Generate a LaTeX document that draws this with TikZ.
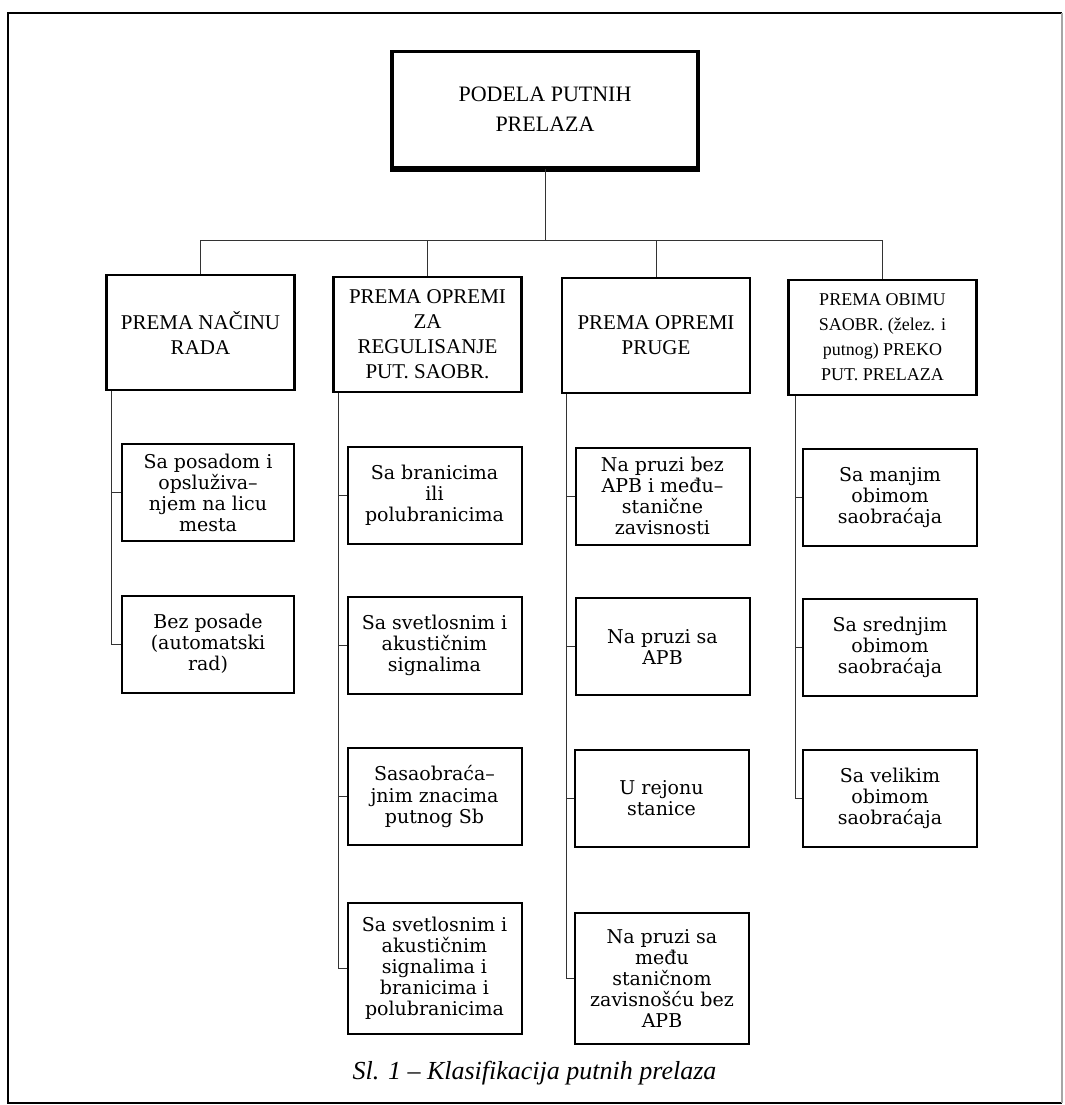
\documentclass[tikz,border=0pt]{standalone}
\usepackage{fontspec}
\setmainfont{Liberation Serif}
\newfontfamily\itemfont{DejaVu Serif}
\usepackage{tikz}

\begin{document}
\begin{tikzpicture}[x=0.5pt, y=-0.5pt,
  mainbox/.style={draw, line width=1.6pt, minimum width=153pt, minimum height=58pt, align=center, inner sep=2pt, font=\fontsize{11}{15}\selectfont},
  groupbox/.style={draw, line width=1.4pt, minimum width=94pt, minimum height=57.5pt, align=center, inner sep=2pt, font=\fontsize{10.5}{12.5}\selectfont},
  itembox/.style={draw, line width=1pt, minimum width=87pt, minimum height=48.5pt, align=center, inner sep=2pt, font=\itemfont\fontsize{9.5}{10.5}\selectfont},
  link/.style={line width=0.5pt, black!80}]
\useasboundingbox (0,0) rectangle (1065,1105);

% Frame
\draw[line width=1pt] (1062,13) -- (8,13) -- (8,1103) -- (1062,1103);
\draw[line width=0.6pt, black!35] (1062,13) -- (1062,1103);

% Top node
\node[mainbox] (podela) at (545,109.5) {PODELA PUTNIH\\PRELAZA};
\draw[line width=3pt] (podela.south west) -- (podela.south east);

% Groups
\node[groupbox] (nacin) at (200.5,332.5) {PREMA NAČINU\\RADA};
\node[groupbox] (reg) at (427.5,334.5) {PREMA OPREMI\\ZA\\REGULISANJE\\PUT. SAOBR.};
\node[groupbox] (pruga) at (656,335.5) {PREMA OPREMI\\PRUGE};
\node[groupbox, font=\fontsize{9}{12.5}\selectfont] (obim) at (882.5,337.5) {PREMA OBIMU\\SAOBR. (želez. i\\putnog) PREKO\\PUT. PRELAZA};

% Items under PREMA NACINU RADA
\node[itembox, minimum width=86pt] (nacin_1) at (208,492.5) {Sa posadom i\\opsluživa–\\njem na licu\\mesta};
\node[itembox, minimum width=86pt] (nacin_2) at (208,644) {Bez posade\\(automatski\\rad)};

% Items under PREMA OPREMI ZA REGULISANJE
\node[itembox] (reg_1) at (434.5,495) {Sa branicima\\ili\\polubranicima};
\node[itembox] (reg_2) at (434.5,645) {Sa svetlosnim i\\akustičnim\\signalima};
\node[itembox] (reg_3) at (434.5,796.5) {Sasaobraća–\\jnim znacima\\putnog Sb};
\node[itembox, minimum height=65.5pt] (reg_4) at (434.5,968.5) {Sa svetlosnim i\\akustičnim\\signalima i\\branicima i\\polubranicima};

% Items under PREMA OPREMI PRUGE
\node[itembox] (pruga_1) at (662.5,496) {Na pruzi bez\\APB i među–\\stanične\\zavisnosti};
\node[itembox] (pruga_2) at (662.5,646.5) {Na pruzi sa\\APB};
\node[itembox] (pruga_3) at (661.5,798.5) {U rejonu\\stanice};
\node[itembox, minimum height=65.5pt] (pruga_4) at (662,978.5) {Na pruzi sa\\među\\staničnom\\zavisnošću bez\\APB};

% Items under PREMA OBIMU
\node[itembox] (obim_1) at (890,497.5) {Sa manjim\\obimom\\saobraćaja};
\node[itembox] (obim_2) at (890,647.5) {Sa srednjim\\obimom\\saobraćaja};
\node[itembox] (obim_3) at (890,798) {Sa velikim\\obimom\\saobraćaja};

% Bus from top node
\coordinate (bus) at (545,240);
\draw[link] (podela) -- (bus);
\draw[link] (bus) -| (nacin.north);
\draw[link] (bus) -| (reg.north);
\draw[link] (bus) -| (pruga.north);
\draw[link] (bus) -| (obim.north);

% Column lines
\draw[link] ([xshift=3pt]nacin.south west) |- (nacin_1.west);
\draw[link] ([xshift=3pt]nacin.south west) |- (nacin_2.west);

\draw[link] ([xshift=3pt]reg.south west) |- (reg_1.west);
\draw[link] ([xshift=3pt]reg.south west) |- (reg_2.west);
\draw[link] ([xshift=3pt]reg.south west) |- (reg_3.west);
\draw[link] ([xshift=3pt]reg.south west) |- (reg_4.west);

\draw[link] ([xshift=3pt]pruga.south west) |- (pruga_1.west);
\draw[link] ([xshift=3pt]pruga.south west) |- (pruga_2.west);
\draw[link] ([xshift=3pt]pruga.south west) |- (pruga_3.west);
\draw[link] ([xshift=3pt]pruga.south west) |- (pruga_4.west);

\draw[link] ([xshift=4pt]obim.south west) |- (obim_1.west);
\draw[link] ([xshift=4pt]obim.south west) |- (obim_2.west);
\draw[link] ([xshift=4pt]obim.south west) |- (obim_3.west);

% Caption
\node[font=\fontsize{13}{15}\selectfont\itshape] (caption) at (534.5,1073) {Sl. 1 – Klasifikacija putnih prelaza};
\end{tikzpicture}
\end{document}
